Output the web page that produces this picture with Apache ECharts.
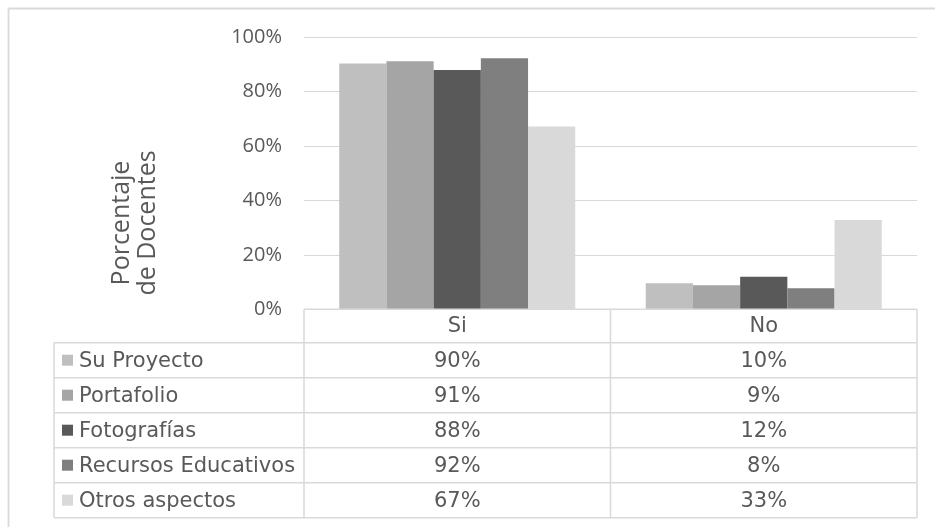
<!DOCTYPE html>
<html><head><meta charset="utf-8">
<script src="https://cdn.jsdelivr.net/npm/echarts/dist/echarts.min.js"></script>
<style>html,body{margin:0;padding:0;background:#fff}#c{width:935px;height:527px}</style>
</head><body><div id="c"></div>
<script>
// ---- data ----
const categories = ['Si', 'No'];
const seriesNames = ['Su Proyecto', 'Portafolio', 'Fotografías', 'Recursos Educativos', 'Otros aspectos'];
const suProyecto = [90.4, 9.6];
const portafolio = [91.2, 8.8];
const fotografias = [88.0, 12.0];
const recursosEducativos = [92.3, 7.7];
const otrosAspectos = [67.2, 32.8];
const yTickMin = 0, yTickMax = 100, yTickStep = 20;
const yAxisTitle = 'Porcentaje\nde Docentes';

// ---- style ----
const colors = ['#bfbfbf', '#a5a5a5', '#595959', '#7f7f7f', '#d9d9d9'];
const seriesValues = [suProyecto, portafolio, fotografias, recursosEducativos, otrosAspectos];
const textColor = '#595959';
const lineColor = '#d9d9d9';
const tableFont = '"DejaVu Sans", Verdana, sans-serif';
const axisFont = '"Open Sans", "Segoe UI", sans-serif';

const W = 935, H = 527;
const gridLeft = 304, gridRight = 18, gridTop = 37.3, gridBottomY = 309.3;
const headerH = 33.4, rowH = 35, tableLeft = 54;

const chart = echarts.init(document.getElementById('c'), null, {renderer: 'canvas'});

const option = {
  animation: false,
  backgroundColor: '#ffffff',
  grid: {left: gridLeft, right: gridRight, top: gridTop, bottom: H - gridBottomY, containLabel: false},
  xAxis: {
    type: 'category',
    data: categories,
    axisLine: {show: false},
    axisTick: {show: false},
    axisLabel: {color: textColor, fontFamily: tableFont, fontSize: 21, margin: 7}
  },
  yAxis: {
    type: 'value',
    min: yTickMin, max: yTickMax, interval: yTickStep,
    axisLine: {show: false},
    axisTick: {show: false},
    axisLabel: {formatter: '{value}%', color: textColor, fontFamily: axisFont, fontSize: 20, margin: 22},
    splitLine: {lineStyle: {color: lineColor, width: 1.2}}
  },
  series: seriesNames.map((name, i) => ({
    name: name,
    type: 'bar',
    data: seriesValues[i],
    barGap: '0%',
    barCategoryGap: '23%',
    itemStyle: {color: colors[i]}
  }))
};
chart.setOption(option);

// ---- data table and frame (layout derived from the grid) ----
const gridRightX = W - gridRight;
const colCenters = categories.map(c => chart.convertToPixel({xAxisIndex: 0}, c));
const rowTop0 = gridBottomY + headerH;
const graphics = [];
const line = (x1, y1, x2, y2, w) => graphics.push({
  type: 'line', silent: true, z: 10,
  shape: {x1, y1, x2, y2},
  style: {stroke: lineColor, lineWidth: w || 1.5}
});
// outer frame (top and left edges visible)
line(8.5, 8.5, W, 8.5, 1.8);
line(8.5, 8.5, 8.5, H, 1.8);
// header top
line(gridLeft, gridBottomY, gridRightX, gridBottomY);
// row lines
for (let k = 0; k <= seriesNames.length; k++) {
  const y = rowTop0 + k * rowH;
  line(tableLeft, y, gridRightX, y);
}
const tableBottom = rowTop0 + seriesNames.length * rowH;
// vertical lines
line(tableLeft, rowTop0, tableLeft, tableBottom);
const half = (gridRightX - gridLeft) / categories.length;
for (let j = 0; j <= categories.length; j++) {
  const x = gridLeft + j * half;
  line(x, gridBottomY, x, tableBottom);
}
// rows
seriesNames.forEach((name, i) => {
  const cy = rowTop0 + i * rowH + rowH / 2;
  graphics.push({type: 'rect', silent: true, z: 11,
    shape: {x: 62, y: cy - 5.5, width: 11, height: 11},
    style: {fill: colors[i]}});
  graphics.push({type: 'text', silent: true, z: 11, x: 79, y: cy + 1,
    style: {text: name, fill: textColor, font: '21px ' + tableFont, align: 'left', verticalAlign: 'middle'}});
  categories.forEach((c, j) => {
    graphics.push({type: 'text', silent: true, z: 11, x: colCenters[j], y: cy + 1,
      style: {text: Math.round(seriesValues[i][j]) + '%', fill: textColor, font: '21px ' + tableFont,
        align: 'center', verticalAlign: 'middle'}});
  });
});
// y axis title
graphics.push({type: 'text', silent: true, z: 11, x: 135, y: 223, rotation: Math.PI / 2,
  style: {text: yAxisTitle, fill: textColor, font: '25px ' + axisFont, lineHeight: 26,
    align: 'center', verticalAlign: 'middle'}});

chart.setOption({graphic: graphics});
</script>
</body></html>
